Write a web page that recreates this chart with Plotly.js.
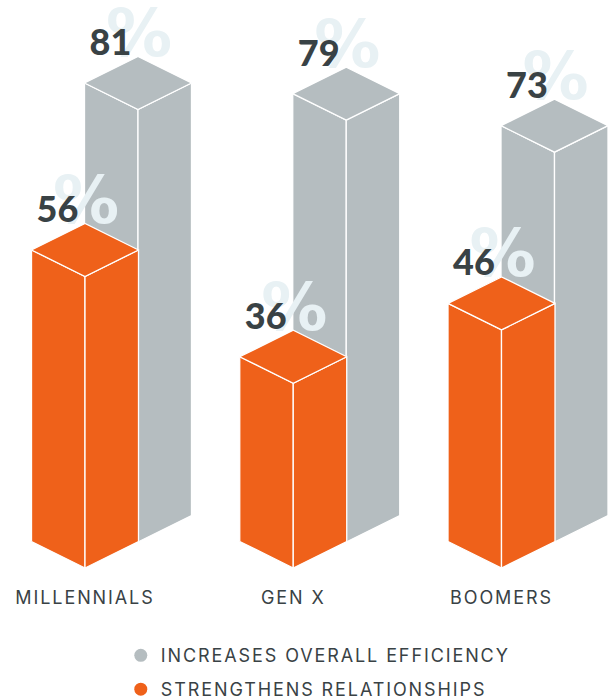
<!DOCTYPE html>
<html>
<head>
<meta charset="utf-8">
<script src="https://cdn.plot.ly/plotly-3.0.1.min.js"></script>
<style>
  html, body { margin: 0; padding: 0; background: #fff; }
  #chart { width: 610px; height: 700px; }
  .xtick text, .legendtext { letter-spacing: 1.9px; }
</style>
</head>
<body>
<div id="chart"></div>
<script>
// Survey results by generation, drawn as isometric columns.
const categories = ["MILLENNIALS", "GEN X", "BOOMERS"];
const efficiency = [81, 79, 73];
const relationships = [56, 36, 46];
const efficiencyName = "INCREASES OVERALL EFFICIENCY";
const relationshipsName = "STRENGTHENS RELATIONSHIPS";

const GREY = "#b5bdc0", ORANGE = "#ef611a", INK = "#394245", PALE = "#e8f1f4";

// Scale of the plot: one category step and one percentage point, in pixels.
const STEP_PX = 208.25, UNIT_PX = 5.34;
const HALF_W = 53.5 / STEP_PX;        // half the column footprint, in category units
const RISE = 26.5 / UNIT_PX;          // isometric rise of that half width, in value units

// Draws one column's three faces; lift moves the column in value units
// so the front row sits lower on the page than the back row.
function column(cat, value, colour, shiftX, lift, floor) {
  const c = cat + shiftX, top = value + lift, l = c - HALF_W, r = c + HALF_W;
  const face = (xs, ys) => ({
    x: xs, y: ys, mode: "lines", fill: "toself", fillcolor: colour,
    line: { color: "#fff", width: 1.3 }, showlegend: false, hoverinfo: "skip"
  });
  return [
    face([l, c, c, l, l], [floor + RISE, floor, top, top + RISE, floor + RISE]),
    face([c, r, r, c, c], [floor, floor + RISE, top + RISE, top, floor]),
    face([l, c, r, c, l], [top + RISE, top, top + RISE, top + 2 * RISE, top + RISE])
  ];
}

const FRONT_LIFT = -33.5 / UNIT_PX, FRONT_FLOOR = -26 / UNIT_PX;
const BACK_SHIFT = 53 / STEP_PX;

const traces = [];
categories.forEach((_, i) => traces.push(...column(i, efficiency[i], GREY, BACK_SHIFT, 0, 0)));
categories.forEach((_, i) => traces.push(...column(i, relationships[i], ORANGE, 0, FRONT_LIFT, FRONT_FLOOR)));

// Value labels: a pale percent sign with the bold number over it.
function labels(values, shiftX, lift) {
  const apex = values.map(v => v + lift + 2 * RISE);
  const idx = values.map((_, i) => i);
  return [
    { x: idx.map(i => i + shiftX + 1 / STEP_PX), y: apex.map(a => a + 17 / UNIT_PX), mode: "text",
      text: values.map(() => "%"), textposition: "middle center",
      textfont: { family: "DejaVu Sans", size: 66, weight: 700, color: PALE },
      showlegend: false, hoverinfo: "skip", cliponaxis: false },
    { x: idx.map(i => i + shiftX - 27.5 / STEP_PX), y: apex.map(a => a + 10.5 / UNIT_PX), mode: "text",
      text: values.map(String), textposition: "middle center",
      textfont: { family: "Lato", size: 36, weight: 900, color: INK },
      showlegend: false, hoverinfo: "skip", cliponaxis: false }
  ];
}
traces.push(...labels(efficiency, BACK_SHIFT, 0));
traces.push(...labels(relationships, 0, FRONT_LIFT));

// Legend keys carry no plotted points of their own.
traces.push({ x: [null], y: [null], mode: "markers", name: efficiencyName, legendgroup: "a",
  marker: { color: GREY, size: 13 } });
traces.push({ x: [null], y: [null], mode: "markers", name: relationshipsName, legendgroup: "b",
  marker: { color: ORANGE, size: 13 } });

const layout = {
  width: 610, height: 700,
  margin: { l: 0, r: 0, t: 0, b: 120, autoexpand: false },
  paper_bgcolor: "#fff", plot_bgcolor: "#fff",
  hovermode: false,
  xaxis: {
    range: [-85 / STEP_PX, (610 - 85) / STEP_PX], showgrid: false, zeroline: false, showline: false,
    tickvals: [0, 1, 2], ticktext: categories, ticks: "", ticklabelstandoff: 5, tickangle: 0,
    tickfont: { family: "Inter", size: 18, color: INK }
  },
  yaxis: { range: [-38 / UNIT_PX, 542 / UNIT_PX], visible: false },
  showlegend: true,
  legend: {
    x: 0.198, xanchor: "left", y: -0.0985, yanchor: "top", bgcolor: "rgba(0,0,0,0)",
    font: { family: "Inter", size: 18, color: INK },
    traceorder: "grouped", tracegroupgap: 7.4, itemwidth: 30
  }
};

Plotly.newPlot("chart", traces, layout, { displayModeBar: false, staticPlot: true });
</script>
</body>
</html>
